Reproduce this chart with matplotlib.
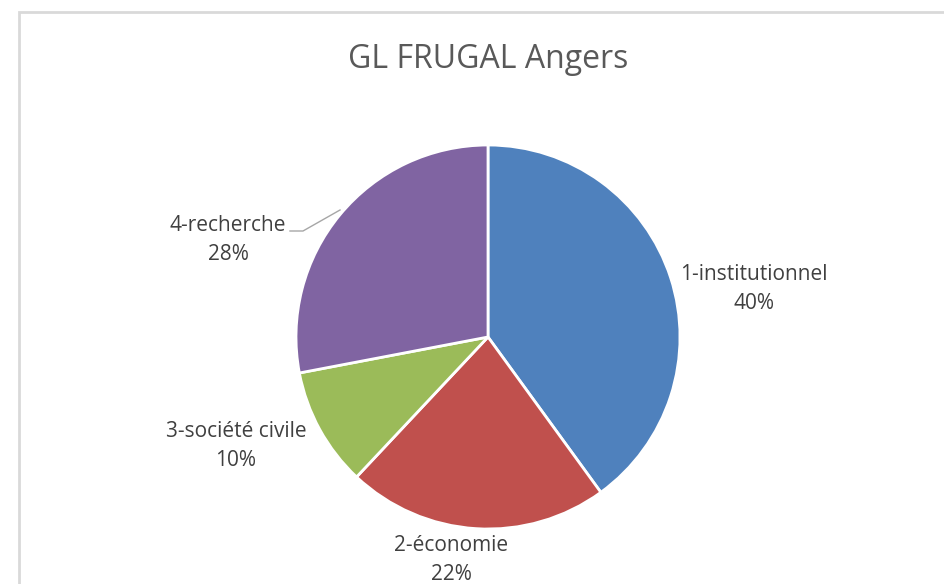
import matplotlib.pyplot as plt
from matplotlib.patches import Rectangle

# data
categories = ['1-institutionnel', '2-économie', '3-société civile', '4-recherche']
shares = [40, 22, 10, 28]
colors = ['#4F81BD', '#C0504D', '#9BBB59', '#8064A2']

plt.rcParams['font.family'] = ['Open Sans', 'DejaVu Sans']

W, H = 944, 584
fig = plt.figure(figsize=(W / 100, H / 100), dpi=100)
ax = fig.add_axes([0, 0, 1, 1])

# chart border (light gray)
ax.add_patch(Rectangle((19, -10), W + 20, H - 12 + 10, fill=False,
                       edgecolor='#D9D9D9', linewidth=2))

cx, cy, r = 488, H - 337, 192
wedges, _ = ax.pie(shares, colors=colors, startangle=90, counterclock=False,
                   center=(cx, cy), radius=r, frame=True,
                   wedgeprops=dict(edgecolor='white', linewidth=2))
ax.set_xlim(0, W)
ax.set_ylim(0, H)
ax.axis('off')

txt = '#404040'
ax.text(488, H - 59, 'GL FRUGAL Angers', ha='center', va='center',
        fontsize=23, color='#595959')

label_pos = [(754, 289), (451, 560), (236, 446), (228, 240)]
for name, val, (lx, ly) in zip(categories, shares, label_pos):
    ax.text(lx, H - ly, f'{name}\n{val}%', ha='center', va='center',
            fontsize=15, color=txt, linespacing=1.5)

# leader line for 4-recherche
ax.plot([290, 303, 340], [H - 231, H - 231, H - 210], color='#A6A6A6', lw=1)

fig.savefig('out.png', dpi=100)
